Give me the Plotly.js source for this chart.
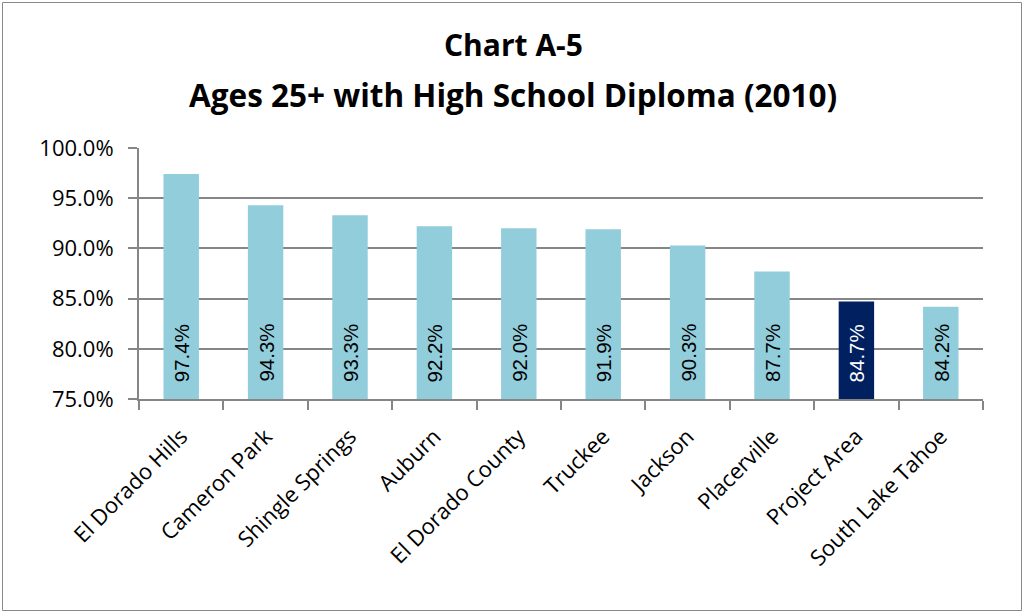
<!DOCTYPE html>
<html>
<head>
<meta charset="utf-8">
<script src="https://cdn.plot.ly/plotly-3.0.1.min.js"></script>
<style>html,body{margin:0;padding:0;background:#fff;}#chart{width:1027px;height:613px;}</style>
</head>
<body>
<div id="chart"></div>
<script>
const categories = ["El Dorado Hills","Cameron Park","Shingle Springs","Auburn","El Dorado County","Truckee","Jackson","Placerville","Project Area","South Lake Tahoe"];
const values = [97.4, 94.3, 93.3, 92.2, 92.0, 91.9, 90.3, 87.7, 84.7, 84.2];
const highlight = "Project Area";
const yTicks = [75, 80, 85, 90, 95, 100];
const titleLines = ["Chart A-5", "Ages 25+ with High School Diploma (2010)"];

const colors = categories.map(c => c === highlight ? "#002060" : "#92CDDC");
const textColors = categories.map(c => c === highlight ? "#FFFFFF" : "#000000");

const trace = {
  type: "bar",
  x: categories,
  y: values,
  marker: {color: colors},
  hoverinfo: "none"
};

const pw = 844, ph = 251, ml = 139, mt = 148;
const yMin = yTicks[0];

const labelAnns = categories.map((c, i) => ({
  x: c, y: yMin, xref: "x", yref: "y",
  text: values[i].toFixed(1) + "%",
  showarrow: false, textangle: -90,
  xanchor: "center", yanchor: "bottom", yshift: 15,
  font: {family: "Liberation Sans, Arial, sans-serif", size: 20.5, color: textColors[i]}
}));

const titleAnns = titleLines.map((t, i) => ({
  xref: "paper", yref: "paper",
  x: (513 - ml) / pw, y: ((mt + ph) - (i === 0 ? 45 : 94)) / ph,
  xanchor: "center", yanchor: "middle",
  text: "<b>" + t + "</b>", showarrow: false,
  font: {family: "Open Sans, Lato, sans-serif", size: i === 0 ? 30 : 31.5, color: "#000"}
}));

const layout = {
  width: 1027, height: 613,
  margin: {l: ml, r: 1027 - ml - pw, t: mt, b: 613 - mt - ph, pad: 0},
  paper_bgcolor: "#fff", plot_bgcolor: "#fff",
  showlegend: false,
  bargap: 0.58,
  xaxis: {
    type: "category",
    tickson: "boundaries",
    ticks: "outside", ticklen: 9, tickwidth: 2, tickcolor: "#868686",
    showline: true, linecolor: "#868686", linewidth: 2,
    showgrid: false,
    tickangle: -45,
    ticklabelstandoff: 14,
    tickfont: {family: "Open Sans, Lato, sans-serif", size: 22, color: "#000"}
  },
  yaxis: {
    range: [75, 100],
    tickvals: yTicks,
    ticktext: yTicks.map(v => v.toFixed(1) + "%"),
    ticks: "outside", ticklen: 9, tickwidth: 2, tickcolor: "#868686",
    showline: true, linecolor: "#868686", linewidth: 2,
    showgrid: true, gridcolor: "#868686", gridwidth: 2,
    zeroline: false,
    ticklabelstandoff: 10,
    tickfont: {family: "Open Sans, Lato, sans-serif", size: 22, color: "#000"}
  },
  annotations: labelAnns.concat(titleAnns),
  shapes: [{
    type: "rect", xref: "paper", yref: "paper",
    x0: (2.5 - ml) / pw, x1: (1021.5 - ml) / pw,
    y0: ((mt + ph) - 610.5) / ph, y1: ((mt + ph) - 2.5) / ph,
    line: {color: "#888888", width: 1}, fillcolor: "rgba(0,0,0,0)", layer: "below"
  }]
};

Plotly.newPlot("chart", [trace], layout, {staticPlot: true, displayModeBar: false});
</script>
</body>
</html>
